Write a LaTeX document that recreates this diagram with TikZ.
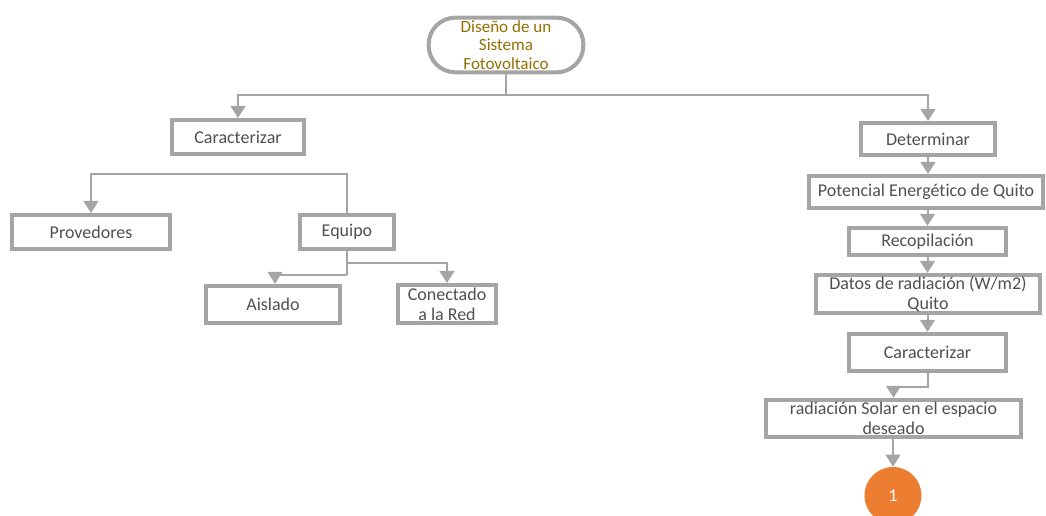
\documentclass[tikz,border=0pt]{standalone}
\usepackage{fontspec}
\setmainfont{Carlito}[Ligatures={NoCommon}]
\usetikzlibrary{arrows.meta}
\definecolor{linegray}{HTML}{A5A5A5}
\definecolor{textgray}{HTML}{505050}
\definecolor{titlegold}{HTML}{957000}
\definecolor{accent}{HTML}{ED7D31}
\tikzset{
  box/.style={draw=linegray, line width=3pt, fill=white, text=textgray,
    align=center, inner sep=1pt, font=\fontsize{13.5}{15}\selectfont},
  conn/.style={draw=linegray, line width=1.5pt,
    -{Triangle[width=11pt,length=9pt]}},
  plain/.style={draw=linegray, line width=1.5pt},
}
\begin{document}
\begin{tikzpicture}[x=0.75pt, y=-0.75pt]
\path[use as bounding box, clip] (0,0) rectangle (1046,516);

% title
\node[box, rounded corners=20pt, text=titlegold, minimum width=116pt, minimum height=41pt,
  font=\fontsize{12.8}{13.9}\selectfont]
  (top) at (506,45) {Diseño de un\\Sistema\\Fotovoltaico};

% left branch
\node[box, minimum width=99pt, minimum height=25.5pt] (car1) at (238,137) {Caracterizar};
\node[box, minimum width=118.5pt, minimum height=25.5pt] (prov) at (91,232) {Provedores};
\node[box, minimum width=70.5pt, minimum height=25pt] (equ) at (347,232) {Equipo};
\node[box, minimum width=100.5pt, minimum height=28pt] (ais) at (273,304.5) {Aislado};
\node[box, minimum width=73.5pt, minimum height=28.5pt] (con) at (447,304) {Conectado\\a la Red};

% right branch
\node[box, minimum width=100.5pt, minimum height=24pt] (det) at (928,139) {Determinar};
\node[box, minimum width=175.5pt, minimum height=24pt] (pot) at (926,192) {Potencial Energético de Quito};
\node[box, minimum width=117.75pt, minimum height=20.5pt] (rec) at (927.5,241.5) {Recopilación};
\node[box, minimum width=168pt, minimum height=28.5pt] (dat) at (928,294) {Datos de radiación (W/m2)\\Quito};
\node[box, minimum width=117.75pt, minimum height=28pt] (car2) at (927.5,352.5) {Caracterizar};
\node[box, minimum width=191.25pt, minimum height=28pt] (rad) at (893.5,418.5) {radiación Solar en el espacio\\deseado};
\node[circle, fill=accent, text=white, minimum size=42.75pt, inner sep=0pt,
  font=\fontsize{13.5}{15}\selectfont] (c1) at (893,495.5) {1};

% junction points
\coordinate (split) at (506,95);
\coordinate (eqtop) at (347,174);
\coordinate (eqleft) at (347,275);
\coordinate (eqright) at (347,263);
\coordinate (carbend) at (928,387);

% connectors
\draw[plain] (top.south) -- (split);
\draw[conn] (split) -| (car1.north);
\draw[conn] (split) -| (det.north);
\draw[conn] (equ.north) -- (eqtop) -| (prov.north);
\draw[plain] (equ.south) -- (eqleft);
\draw[conn] (eqleft) -| ([xshift=1.5pt]ais.north);
\draw[conn] (eqright) -| (con.north);
\draw[conn] (det.south) -- (pot.north -| det.south);
\draw[conn] (pot.south -| rec.north) -- (rec.north);
\draw[conn] (rec.south) -- (rec.south |- dat.north);
\draw[conn] (dat.south -| car2.north) -- (car2.north);
\draw[conn] (car2.south -| carbend) -- (carbend) -| (rad.north);
\draw[conn] (rad.south -| c1.north) -- (c1.north);
\end{tikzpicture}
\end{document}
